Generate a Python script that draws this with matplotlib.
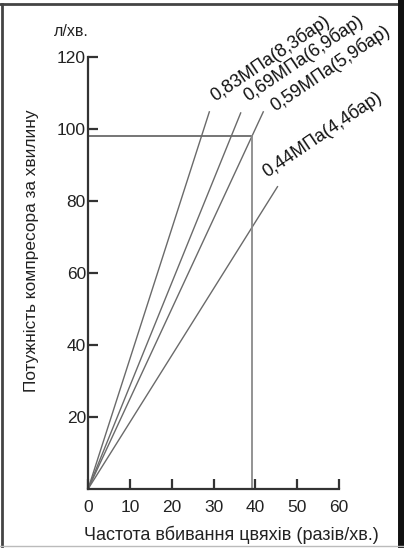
import matplotlib.pyplot as plt
from matplotlib.lines import Line2D

plt.rcParams['font.family'] = ['Liberation Sans', 'DejaVu Sans']

# pressure lines: start at origin, end points
labels = ['0,83МПа(8,3бар)', '0,69МПа(6,9бар)', '0,59МПа(5,9бар)', '0,44МПа(4,4бар)']
end_x = [29.0, 36.5, 41.9, 45.3]
end_y = [104.8, 104.5, 104.8, 84.0]
label_x = [30.4, 38.3, 44.7, 42.8]
label_y = [107.6, 107.6, 104.8, 86.6]

# reading example (rate, air flow)
ex_rate = 39.2
ex_flow = 98

xticks = [0, 10, 20, 30, 40, 50, 60]
yticks = [20, 40, 60, 80, 100, 120]

fig = plt.figure(figsize=(4.04, 5.48), dpi=100)
ax = fig.add_axes([0.218, 0.1077, 0.621, 0.788])

for ex, ey in zip(end_x, end_y):
    ax.plot([0, ex], [0, ey], color='#6a6a6a', lw=1.0)

ax.plot([0, ex_rate], [ex_flow, ex_flow], color='#6a6a6a', lw=1.3)
ax.plot([ex_rate, ex_rate], [0, ex_flow], color='#8a8a8a', lw=1.3)

for lx, ly, t in zip(label_x, label_y, labels):
    ax.text(lx, ly, t, rotation=34, rotation_mode='anchor', ha='left', va='baseline',
            fontsize=13, color='#111111', clip_on=False)

ax.set_xlim(0, 60)
ax.set_ylim(0, 120)
ax.set_xticks(xticks)
ax.set_yticks(yticks)
ax.spines['top'].set_visible(False)
ax.spines['right'].set_visible(False)
for s in ['left', 'bottom']:
    ax.spines[s].set_linewidth(1.6)
    ax.spines[s].set_color('#333333')
ax.tick_params(axis='both', direction='in', length=7, width=1.6, color='#333333',
               labelsize=12.5, labelcolor='#222222')
ax.tick_params(axis='x', pad=8)
ax.tick_params(axis='y', pad=1.5)

fig.text(71 / 404, 1 - 31 / 548, 'л/хв.', ha='center', va='center', fontsize=11.5, color='#222222')
fig.text(231 / 404, 1 - 535 / 548, 'Частота вбивання цвяхів (разів/хв.)', ha='center', va='center',
         fontsize=13, color='#222222')
fig.text(32 / 404, 1 - 251 / 548, 'Потужність компресора за хвилину', ha='center', va='center',
         rotation=90, fontsize=12.4, color='#222222')

# frame around the picture
fig.add_artist(Line2D([0.006, 0.006], [0.0, 0.993], transform=fig.transFigure, color='#444444', lw=2))
fig.add_artist(Line2D([0.0, 1.0], [0.993, 0.993], transform=fig.transFigure, color='#444444', lw=2))
fig.add_artist(Line2D([0.992, 0.992], [0.0, 1.0], transform=fig.transFigure, color='#111111', lw=5))
fig.add_artist(Line2D([0.0, 1.0], [0.003, 0.003], transform=fig.transFigure, color='#bbbbbb', lw=1))

fig.savefig('out.png', dpi=100)
